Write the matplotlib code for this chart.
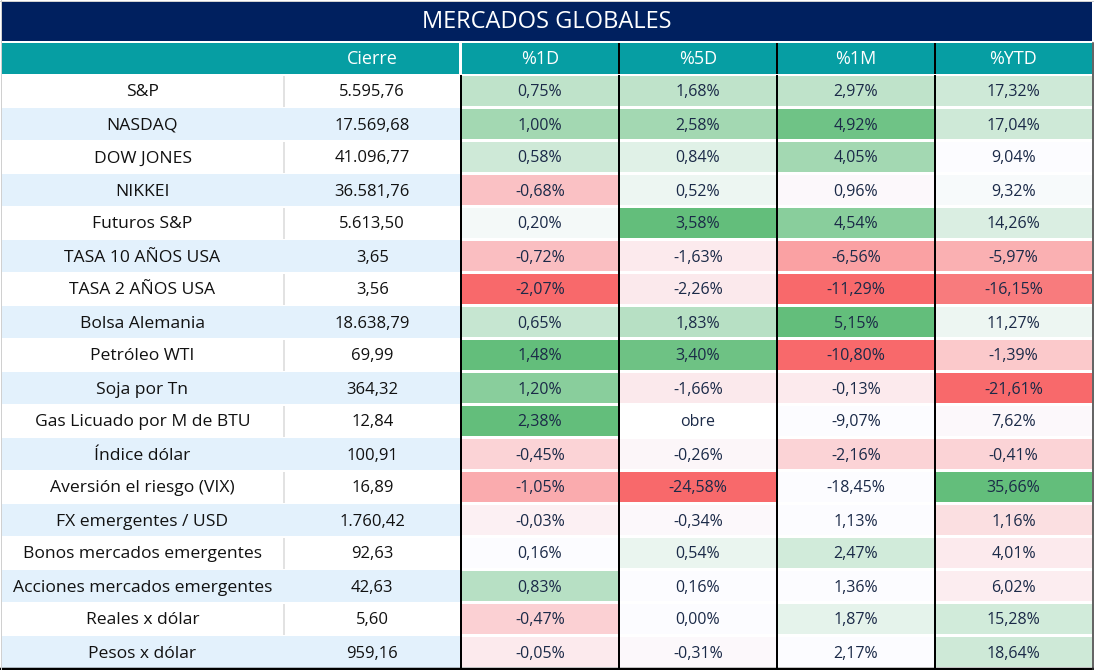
import matplotlib
matplotlib.use("Agg")
import matplotlib.pyplot as plt
from matplotlib.patches import Rectangle
import numpy as np

# ---------------- data ----------------
labels = ["S&P", "NASDAQ", "DOW JONES", "NIKKEI", "Futuros S&P", "TASA 10 AÑOS USA",
          "TASA 2 AÑOS USA", "Bolsa Alemania", "Petróleo WTI", "Soja por Tn",
          "Gas Licuado por M de BTU", "Índice dólar", "Aversión el riesgo (VIX)",
          "FX emergentes / USD", "Bonos mercados emergentes", "Acciones mercados emergentes",
          "Reales x dólar", "Pesos x dólar"]
cierre = [5595.76, 17569.68, 41096.77, 36581.76, 5613.50, 3.65, 3.56, 18638.79, 69.99,
          364.32, 12.84, 100.91, 16.89, 1760.42, 92.63, 42.63, 5.60, 959.16]
pct_1d = [0.75, 1.00, 0.58, -0.68, 0.20, -0.72, -2.07, 0.65, 1.48, 1.20, 2.38, -0.45,
          -1.05, -0.03, 0.16, 0.83, -0.47, -0.05]
pct_5d = [1.68, 2.58, 0.84, 0.52, 3.58, -1.63, -2.26, 1.83, 3.40, -1.66, None, -0.26,
          -24.58, -0.34, 0.54, 0.16, 0.00, -0.31]
pct_1m = [2.97, 4.92, 4.05, 0.96, 4.54, -6.56, -11.29, 5.15, -10.80, -0.13, -9.07, -2.16,
          -18.45, 1.13, 2.47, 1.36, 1.87, 2.17]
pct_ytd = [17.32, 17.04, 9.04, 9.32, 14.26, -5.97, -16.15, 11.27, -1.39, -21.61, 7.62,
           -0.41, 35.66, 1.16, 4.01, 6.02, 15.28, 18.64]
missing_text = "obre"
title = "MERCADOS GLOBALES"
headers = ["Cierre", "%1D", "%5D", "%1M", "%YTD"]

# ---------------- style: colour-scale intensity per cell (-1 red .. 0 white .. 1 green) ----
shade = [
    [0.40, 0.40, 0.40, 0.30],
    [0.58, 0.58, 0.92, 0.30],
    [0.30, 0.18, 0.58, 0.00],
    [-0.40, 0.10, -0.03, 0.03],
    [0.05, 1.00, 0.75, 0.22],
    [-0.42, -0.12, -0.62, -0.52],
    [-1.00, -0.13, -1.00, -0.88],
    [0.35, 0.45, 1.00, 0.10],
    [1.00, 0.93, -1.00, -0.35],
    [0.75, -0.13, -0.12, -1.00],
    [1.00, 0.00, 0.00, -0.03],
    [-0.28, -0.04, -0.28, -0.28],
    [-0.55, -1.00, 0.00, 1.00],
    [-0.08, -0.03, 0.00, -0.20],
    [0.00, 0.12, 0.28, -0.12],
    [0.45, 0.00, 0.00, -0.10],
    [-0.30, 0.00, 0.15, 0.28],
    [-0.12, -0.03, 0.00, 0.30],
]
RED = np.array([0xF8, 0x69, 0x6B]) / 255
MID = np.array([0xFC, 0xFC, 0xFF]) / 255
GREEN = np.array([0x63, 0xBE, 0x7B]) / 255


def scale_colour(s):
    if s >= 0:
        return tuple(MID + (GREEN - MID) * s)
    return tuple(MID + (RED - MID) * (-s))


def fmt_num(v):
    s = f"{v:,.2f}"
    return s.replace(",", "X").replace(".", ",").replace("X", ".")


def fmt_pct(v):
    if v is None:
        return missing_text
    return fmt_num(v) + "%"


NAVY = "#00205F"
TEAL = "#069EA3"
BLUE_ROW = "#E3F1FC"
TXT_VAL = "#1B2A48"
FONT = "Open Sans"

W, H = 1094, 670
fig = plt.figure(figsize=(W / 100, H / 100), dpi=100)
ax = fig.add_axes([0, 0, 1, 1])
ax.set_xlim(0, W)
ax.set_ylim(H, 0)
ax.axis("off")

px = 0.72  # points per pixel
dy = 1.5   # text baseline nudge

# layout
col_edges = [1, 284, 460.5, 619, 777, 935, 1092]
title_top, title_bot = 1, 41
head_top, head_bot = 43, 73.5
row_top0, row_h = 74.5, 33.0
n = len(labels)
table_bot = row_top0 + n * row_h

# title bar
ax.add_patch(Rectangle((col_edges[0], title_top), col_edges[-1] - col_edges[0],
                       title_bot - title_top, facecolor=NAVY, edgecolor="none"))
ax.text((col_edges[0] + col_edges[-1]) / 2, (title_top + title_bot) / 2 + 1, title,
        color="white", fontsize=17, ha="center", va="center", family=FONT)

# header row
ax.add_patch(Rectangle((col_edges[0], head_top), col_edges[2] - 1.5 - col_edges[0],
                       head_bot - head_top, facecolor=TEAL, edgecolor="none"))
ax.add_patch(Rectangle((col_edges[2] + 1.5, head_top), col_edges[-1] - col_edges[2] - 1.5,
                       head_bot - head_top, facecolor=TEAL, edgecolor="none"))
for j, h in enumerate(headers):
    cx = (col_edges[j + 1] + col_edges[j + 2]) / 2
    ax.text(cx, (head_top + head_bot) / 2 + 1, h, color="white", fontsize=13,
            ha="center", va="center", family=FONT)
for x in col_edges[3:6]:
    ax.plot([x, x], [head_top, head_bot], color="black", lw=2 * px, solid_capstyle="butt")

# data rows
pct_cols = [pct_1d, pct_5d, pct_1m, pct_ytd]
for i in range(n):
    y0 = row_top0 + i * row_h
    cy = y0 + row_h / 2 + dy
    bg = BLUE_ROW if i % 2 == 1 else "white"
    ax.add_patch(Rectangle((col_edges[0], y0), col_edges[2] - col_edges[0], row_h - 1,
                           facecolor=bg, edgecolor="none"))
    if i % 2 == 0:
        ax.plot([col_edges[1], col_edges[1]], [y0 + 1, y0 + row_h - 1], color="#D9D9D9",
                lw=1.5 * px, solid_capstyle="butt")
    ax.text((col_edges[0] + col_edges[1]) / 2, cy, labels[i], color="#111111",
            fontsize=12.6, ha="center", va="center", family=FONT)
    ax.text((col_edges[1] + col_edges[2]) / 2, cy, fmt_num(cierre[i]), color="#111111",
            fontsize=12, ha="center", va="center", family=FONT, fontweight="medium")
    for j, col in enumerate(pct_cols):
        x0, x1 = col_edges[j + 2], col_edges[j + 3]
        fc = "white" if col[i] is None else scale_colour(shade[i][j])
        ax.add_patch(Rectangle((x0, y0 + 1), x1 - x0, row_h - 2.5, facecolor=fc,
                               edgecolor="none"))
        ax.text((x0 + x1) / 2, cy, fmt_pct(col[i]), color=TXT_VAL, fontsize=11.5,
                ha="center", va="center", family=FONT)

for x in col_edges[2:6]:
    ax.plot([x, x], [row_top0, table_bot], color="black", lw=2 * px, solid_capstyle="butt")

# outer lines
ax.plot([0, W], [table_bot + 0.5, table_bot + 0.5], color="black", lw=2.5 * px)
ax.plot([col_edges[-1] + 0.5] * 2, [head_top, H], color="#333333", lw=1.5 * px)
ax.plot([0.5, 0.5], [0, H], color="#D0D0D0", lw=1 * px)
ax.plot([0, W], [0.5, 0.5], color="#D0D0D0", lw=1 * px)

fig.savefig("out.png", dpi=100, facecolor="white")
